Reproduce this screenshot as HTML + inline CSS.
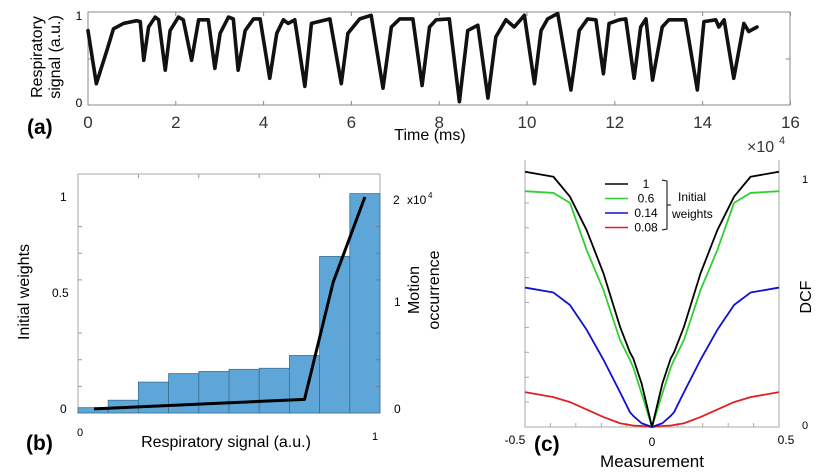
<!DOCTYPE html>
<html><head><meta charset="utf-8"><style>
body{margin:0;background:#fff;}
svg{display:block;font-family:"Liberation Sans",sans-serif;}
</style></head><body>
<svg id="fig" width="829" height="474" viewBox="0 0 829 474">
<g id="pa"></g>
<g id="pb"></g>
<g id="pc"></g>
</svg>
<script>
// Panel (a) data
const respTime=[0,0.19,0.43,0.58,0.81,1.11,1.19,1.27,1.38,1.53,1.61,1.76,1.87,2.06,2.17,2.36,2.52,2.74,2.89,3.01,3.20,3.31,3.42,3.58,3.77,3.92,4.14,4.30,4.45,4.56,4.71,4.94,5.09,5.51,5.77,5.92,6.19,6.45,6.72,6.91,7.10,7.40,7.61,7.78,7.93,8.23,8.46,8.65,8.88,9.11,9.29,9.52,9.71,9.94,10.17,10.32,10.47,10.70,11.00,11.19,11.38,11.57,11.74,11.87,12.10,12.25,12.44,12.59,12.71,12.86,13.08,13.23,13.61,13.88,14.03,14.30,14.37,14.49,14.71,14.94,15.05,15.24];
const respValue=[0.81,0.22,0.59,0.83,0.89,0.92,0.91,0.48,0.85,0.96,0.93,0.37,0.81,0.96,0.93,0.48,0.93,0.93,0.39,0.78,0.96,0.94,0.37,0.81,0.94,0.94,0.28,0.78,0.93,0.89,0.93,0.19,0.89,0.94,0.22,0.78,0.94,0.98,0.17,0.85,0.94,0.94,0.20,0.85,0.93,0.94,0.02,0.81,0.87,0.06,0.74,0.93,0.85,0.98,0.22,0.81,0.94,1.00,0.15,0.81,0.94,0.93,0.33,0.89,0.93,0.94,0.28,0.85,0.94,0.26,0.85,0.93,0.93,0.15,0.91,0.93,0.85,0.93,0.28,0.89,0.80,0.85];
const aTicks=[0,2,4,6,8,10,12,14,16];
// Panel (b) data
const binCounts=[0.05,0.12,0.29,0.37,0.39,0.41,0.42,0.54,1.47,2.06];
const weightX=[0.053,0.75,0.845,0.95];
const weightY=[0.005,0.05,0.6,1.0];
// Panel (c) data
const dcfX=[-0.5,-0.388,-0.323,-0.257,-0.191,-0.126,-0.087,-0.074,-0.041,0];
const dcfBlack=[1.025,1.005,0.925,0.79,0.617,0.403,0.30,0.276,0.175,0];
const dcfGreen=[0.947,0.94,0.90,0.71,0.55,0.35,0.27,0.24,0.135,0];
const dcfBlue=[0.56,0.54,0.49,0.39,0.27,0.14,0.06,0.045,0.015,0];
const dcfRed=[0.14,0.12,0.10,0.07,0.04,0.015,0.008,0.006,0.004,0];
const legendLabels=['1','0.6','0.14','0.08'];

const NS='http://www.w3.org/2000/svg';
function mk(parent,tag,attrs,text){const e=document.createElementNS(NS,tag);for(const k in attrs)e.setAttribute(k,attrs[k]);if(text!==undefined)e.textContent=text;parent.appendChild(e);return e;}

// ---------- Panel A ----------
const pa=document.getElementById('pa');
const ax=t=>88+t*43.9, ay=v=>103.5-v*90;
let e=mk(pa,'rect',{x:88,y:12,width:702,height:93,fill:'none',stroke:'#888','stroke-width':1});

aTicks.forEach(t=>{
  let l=mk(pa,'line',{x1:ax(t),x2:ax(t),y1:105,y2:101,stroke:'#888'});
  
  let l2=mk(pa,'line',{x1:ax(t),x2:ax(t),y1:12,y2:16,stroke:'#888'});
  
  let tx=mk(pa,'text',{x:ax(t),y:128,'text-anchor':'middle','font-size':17,fill:'#333'},String(t));
  
});
e=mk(pa,'line',{x1:786,x2:790,y1:59,y2:59,stroke:'#888'});
e=mk(pa,'line',{x1:88,x2:92,y1:59,y2:59,stroke:'#888'});
e=mk(pa,'text',{x:79,y:20,'text-anchor':'middle','font-size':12},'1');
e=mk(pa,'text',{x:79,y:107,'text-anchor':'middle','font-size':12},'0');
e=mk(pa,'polyline',{points:respTime.map((t,i)=>ax(t)+','+ay(respValue[i])).join(' '),fill:'none',stroke:'#111','stroke-width':3.6,'stroke-linejoin':'round','stroke-linecap':'round'});

e=mk(pa,'text',{x:0,y:0,'text-anchor':'middle','font-size':16,transform:'translate(42,57) rotate(-90)'},'Respiratory');
e=mk(pa,'text',{x:0,y:0,'text-anchor':'middle','font-size':16,transform:'translate(60,57) rotate(-90)'},'signal (a.u.)');
e=mk(pa,'text',{x:430,y:140,'text-anchor':'middle','font-size':16},'Time (ms)');
e=mk(pa,'text',{x:27,y:134,'font-size':21,'font-weight':'bold'},'(a)');
e=mk(pa,'text',{x:747,y:152,'font-size':16,fill:'#333'},'×10');
e=mk(pa,'text',{x:779,y:144,'font-size':11,fill:'#333'},'4');

// ---------- Panel B ----------
const pb=document.getElementById('pb');
const bx=v=>78+v*302, byc=c=>413-c*106.5, byw=w=>410-w*213;
e=mk(pb,'rect',{x:78,y:174,width:302,height:239,fill:'none',stroke:'#aaa','stroke-width':1});

binCounts.forEach((c,i)=>{
  const x0=bx(i/binCounts.length), x1=bx((i+1)/binCounts.length);
  let r=mk(pb,'rect',{x:x0,y:byc(c),width:x1-x0,height:413-byc(c),fill:'#5ea6d8',stroke:'#3b6f93','stroke-width':0.8});
  
});
[0.25,0.5,0.75,1.25,1.5,1.75].forEach(c=>{
  let l=mk(pb,'line',{x1:376,x2:380,y1:byc(c),y2:byc(c),stroke:'#777'});
  let l2=mk(pb,'line',{x1:78,x2:82,y1:byc(c),y2:byc(c),stroke:'#999'});
});
[0.2,0.4,0.6,0.8].forEach(v=>{let l=mk(pb,'line',{x1:bx(v),x2:bx(v),y1:174,y2:178,stroke:'#999'});});
e=mk(pb,'polyline',{points:weightX.map((x,i)=>bx(x)+','+byw(weightY[i])).join(' '),fill:'none',stroke:'#000','stroke-width':3,'stroke-linejoin':'round'});

[['1',60,201],['0.5',52,297],['0',60,413]].forEach(a=>{let t=mk(pb,'text',{x:a[1],y:a[2],'font-size':12},a[0]);});
[['2',393,204],['1',394,306],['0',394,413]].forEach(a=>{let t=mk(pb,'text',{x:a[1],y:a[2],'font-size':12},a[0]);});
e=mk(pb,'text',{x:407,y:204,'font-size':12},'x10');
e=mk(pb,'text',{x:428,y:198,'font-size':8},'4');
e=mk(pb,'text',{x:0,y:0,'text-anchor':'middle','font-size':16,transform:'translate(29,292) rotate(-90)'},'Initial weights');
e=mk(pb,'text',{x:0,y:0,'text-anchor':'middle','font-size':16,transform:'translate(419,290) rotate(-90)'},'Motion');
e=mk(pb,'text',{x:0,y:0,'text-anchor':'middle','font-size':16,transform:'translate(439,290) rotate(-90)'},'occurrence');
e=mk(pb,'text',{x:77,y:436,'font-size':11},'0');
e=mk(pb,'text',{x:372,y:440,'font-size':11},'1');
e=mk(pb,'text',{x:226,y:447,'text-anchor':'middle','font-size':16},'Respiratory signal (a.u.)');
e=mk(pb,'text',{x:26,y:450,'font-size':21,'font-weight':'bold'},'(b)');

// ---------- Panel C ----------
const pc=document.getElementById('pc');
const cx=x=>652+x*254, cy=v=>427-v*249;
e=mk(pc,'polyline',{points:'525,160 525,427 779,427 779,160',fill:'none',stroke:'#aaa','stroke-width':1});

[0.1,0.2,0.3,0.4,0.5,0.6,0.7,0.8,0.9].forEach(v=>{let l=mk(pc,'line',{x1:525,x2:529,y1:cy(v),y2:cy(v),stroke:'#aaa'});});
[-0.4,-0.3,-0.2,-0.1,0.1,0.2,0.3,0.4].forEach(x=>{let l=mk(pc,'line',{x1:cx(x),x2:cx(x),y1:427,y2:423,stroke:'#aaa'});});
function curve(vals,color,name){
  const pts=[];
  dcfX.forEach((x,i)=>pts.push(cx(x)+','+cy(vals[i])));
  for(let i=dcfX.length-2;i>=0;i--)pts.push(cx(-dcfX[i])+','+cy(vals[i]));
  const p=mk(pc,'polyline',{points:pts.join(' '),fill:'none',stroke:color,'stroke-width':1.8,'stroke-linejoin':'round'});
  
  
}
curve(dcfRed,'#e02020','dcf-line-0.08');
curve(dcfBlue,'#1010d0','dcf-line-0.14');
curve(dcfGreen,'#30d030','dcf-line-0.6');
curve(dcfBlack,'#000','dcf-line-1');
const legColors=['#000','#30d030','#1010d0','#e02020'];
legendLabels.forEach((lab,i)=>{
  const y=184+i*14.5;
  let l=mk(pc,'line',{x1:605,x2:628,y1:y,y2:y,stroke:legColors[i],'stroke-width':1.5});
  
  let t=mk(pc,'text',{x:646,y:y+4,'text-anchor':'middle','font-size':12},lab);
  
});
e=mk(pc,'path',{d:'M662,180 L667,181 L667,205 L671,205 M667,205 L667,229 L662,230',fill:'none',stroke:'#000','stroke-width':1});

e=mk(pc,'text',{x:678,y:201,'font-size':12},'Initial');
e=mk(pc,'text',{x:672,y:218,'font-size':12},'weights');
e=mk(pc,'text',{x:802,y:183,'font-size':11},'1');
e=mk(pc,'text',{x:802,y:429,'font-size':11},'0');
e=mk(pc,'text',{x:0,y:0,'text-anchor':'middle','font-size':16,transform:'translate(811,297) rotate(-90)'},'DCF');
e=mk(pc,'text',{x:515,y:444,'text-anchor':'middle','font-size':12},'-0.5');
e=mk(pc,'text',{x:652,y:446,'text-anchor':'middle','font-size':12},'0');
e=mk(pc,'text',{x:786,y:444,'text-anchor':'middle','font-size':12},'0.5');
e=mk(pc,'text',{x:652,y:467,'text-anchor':'middle','font-size':17},'Measurement');
e=mk(pc,'text',{x:534,y:451,'font-size':21,'font-weight':'bold'},'(c)');
</script>
</body></html>
